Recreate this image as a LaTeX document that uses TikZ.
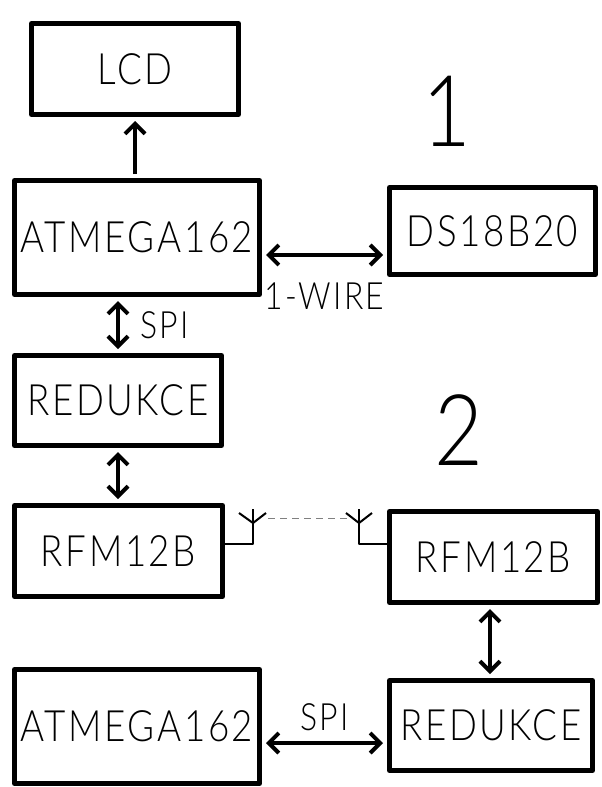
\documentclass[tikz,border=0pt]{standalone}
\usepackage{fontspec}
\setmainfont{Lato}[UprightFont=* Light, FakeStretch=0.85, LetterSpace=6]
\usetikzlibrary{arrows.meta}
\begin{document}
\begin{tikzpicture}[x=0.5pt, y=-0.5pt, line join=round, >={Straight Barb[length=5pt,width=10pt]}, font=\fontsize{21.6}{24}\selectfont]
	\tikzset{blok/.style={draw, line width=2.5pt, inner sep=0pt, minimum width=103.5pt, minimum height=45.5pt},
		wide/.style={blok, minimum width=122.5pt, minimum height=57pt},
		arr/.style={line width=2pt, shorten <=2pt, shorten >=2pt},
		ant/.style={line width=1pt},
		lbl/.style={font=\fontsize{18.8}{20}\selectfont, inner sep=0pt},
		num/.style={font=\fontsize{49.5}{50}\selectfont, inner sep=0pt}}
	\useasboundingbox (0,0) rectangle (601,787);
	\node[blok] (lcd) at (135,69) {LCD};
	\node[wide] (atm1) at (137,237.5) {ATMEGA162};
	\node[blok, minimum width=103pt, minimum height=43.5pt] (ds) at (492.5,231) {DS18B20};
	\node[blok, minimum height=45pt] (red1) at (118,400.5) {REDUKCE};
	\node[blok, minimum width=104pt] (rfm1) at (118.5,551) {RFM12B};
	\node[blok, minimum width=104pt] (rfm2) at (493.5,557) {RFM12B};
	\node[blok, minimum width=101.5pt, minimum height=45pt] (red2) at (491,725.5) {REDUKCE};
	\node[wide] (atm2) at (137,726.5) {ATMEGA162};
	\node[num] (n1) at (447,111) {1};
	\node[num] (n2) at (459,430) {2};
	\draw[arr, ->] (atm1.north -| lcd.south) -- (lcd.south);
	\draw[arr, <->] (atm1.east |- 0,255) -- (ds.west |- 0,255) node[lbl, midway, below=13pt] (w1) {1-WIRE};
	\draw[arr, <->] (atm1.south -| red1.north) -- (red1.north) node[lbl, midway, right=10pt] (spi1) {SPI};
	\draw[arr, <->] (red1.south) -- (rfm1.north -| red1.south);
	\draw[arr, <->] (rfm2.south -| 490,0) -- (red2.north -| 490,0);
	\draw[arr, <->] (atm2.east |- 0,743) -- (red2.west |- 0,743) node[lbl, midway, above=5pt] (spi2) {SPI};
	\coordinate (a1) at (253,509);
	\coordinate (a2) at (359,509);
	\draw[ant] (rfm1.east |- 0,544) -| (a1);
	\draw[ant] ([xshift=-7pt, yshift=-2pt]a1) -- ([yshift=-7pt]a1) -- ([xshift=6.5pt, yshift=-2pt]a1);
	\draw[ant] (rfm2.west |- 0,544) -| (a2);
	\draw[ant] ([xshift=-6.5pt, yshift=-2pt]a2) -- ([yshift=-7pt]a2) -- ([xshift=6.5pt, yshift=-2pt]a2);
	\draw[gray, line width=0.5pt, dash pattern=on 3.5pt off 2.5pt] ([xshift=7.5pt, yshift=-4.5pt]a1) -- ([xshift=-6pt, yshift=-4.5pt]a2);
\end{tikzpicture}
\end{document}
